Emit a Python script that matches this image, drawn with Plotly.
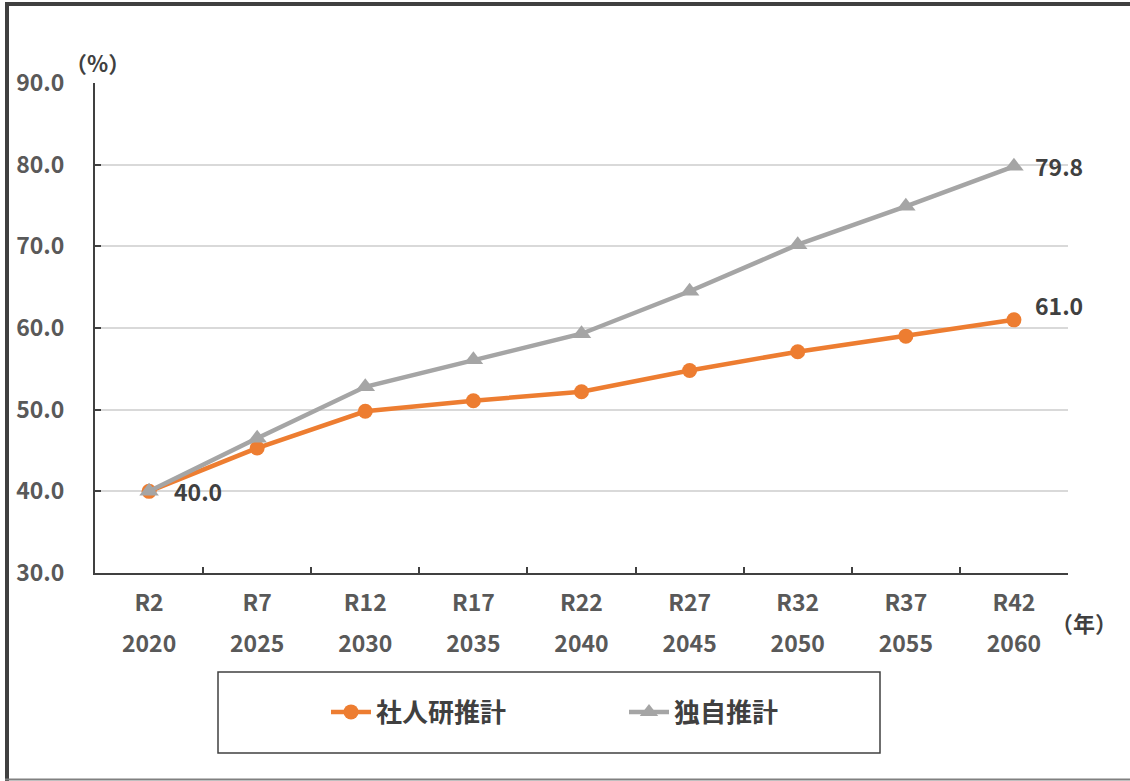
import plotly.graph_objects as go

# Projection years, Japanese era labels and the two projected series (%)
years = ["2020", "2025", "2030", "2035", "2040", "2045", "2050", "2055", "2060"]
eras = ["R2", "R7", "R12", "R17", "R22", "R27", "R32", "R37", "R42"]
ipss_values = [40.0, 45.3, 49.8, 51.1, 52.2, 54.8, 57.1, 59.0, 61.0]
own_values = [40.0, 46.5, 52.8, 56.1, 59.3, 64.5, 70.2, 74.9, 79.8]
series_names = ["社人研推計", "独自推計"]

W, H = 1130, 781
L, R, T, B = 95, 62, 83, 208
PW, PH = W - L - R, H - T - B

def px_x(x):
    return (x - L) / PW

def px_y(y):
    return (H - B - y) / PH

FONT = "Noto Sans CJK JP"
DARK = "#404040"
TICK = "#595959"
ORANGE = "#ED7D31"
GRAY = "#A5A5A5"

fig = go.Figure()
fig.add_trace(go.Scatter(
    x=years, y=ipss_values, name=series_names[0], mode="lines+markers",
    line=dict(color=ORANGE, width=4.5),
    marker=dict(symbol="circle", size=15, color=ORANGE),
))
fig.add_trace(go.Scatter(
    x=years, y=own_values, name=series_names[1], mode="lines+markers",
    line=dict(color=GRAY, width=4.5),
    marker=dict(symbol="triangle-up", size=17, color=GRAY),
))
# carrier for the era-label axis (second row of x tick labels); draws nothing
fig.add_trace(go.Scatter(
    x=list(range(len(eras))), y=ipss_values, xaxis="x2", mode="markers",
    marker=dict(opacity=0, size=1), hoverinfo="skip", showlegend=False,
))

label_font = dict(family=FONT, size=23, color=DARK, weight="bold")
# value labels: first point, and last point of each series (x given as category index)
last = len(years) - 1
labels = [
    (0, ipss_values[0], 23, 0),
    (last, ipss_values[last], 19, 15),
    (last, own_values[last], 19, 0),
]
for xi, yv, dx, dy in labels:
    fig.add_annotation(x=xi, y=yv, xref="x", yref="y", text=f"{yv:.1f}",
                       showarrow=False, xanchor="left", yanchor="middle",
                       xshift=dx, yshift=dy, font=label_font)

unit_font = dict(family=FONT, size=22, color=DARK, weight="bold")
fig.add_annotation(x=px_x(97), y=px_y(62), xref="paper", yref="paper",
                   xanchor="center", yanchor="middle",
                   text="（%）", showarrow=False, font=unit_font)
fig.add_annotation(x=px_x(1084), y=px_y(622), xref="paper", yref="paper",
                   xanchor="center", yanchor="middle",
                   text="（年）", showarrow=False, font=unit_font)

# legend frame and outer chart frame
fig.add_shape(type="rect", xref="paper", yref="paper",
              x0=px_x(218), x1=px_x(880), y0=px_y(753), y1=px_y(672),
              line=dict(color=DARK, width=1.5), layer="below")
fig.add_shape(type="line", xref="paper", yref="paper",
              x0=px_x(5), x1=px_x(1130), y0=px_y(4), y1=px_y(4),
              line=dict(color=DARK, width=4))
fig.add_shape(type="line", xref="paper", yref="paper",
              x0=px_x(7), x1=px_x(7), y0=px_y(2), y1=px_y(781),
              line=dict(color=DARK, width=4))
fig.add_shape(type="line", xref="paper", yref="paper",
              x0=px_x(5), x1=px_x(1130), y0=px_y(779.5), y1=px_y(779.5),
              line=dict(color="#808080", width=2))

tick_font = dict(family=FONT, size=23, color=TICK, weight="bold")

fig.update_layout(
    width=W, height=H,
    margin=dict(l=L, r=R, t=T, b=B, pad=0),
    paper_bgcolor="white", plot_bgcolor="white",
    showlegend=True,
    legend=dict(
        orientation="h", x=px_x(624), y=px_y(712),
        xanchor="center", yanchor="middle",
        font=dict(family=FONT, size=26, color=DARK, weight="bold"),
        bgcolor="rgba(0,0,0,0)", borderwidth=0,
        entrywidth=243, itemwidth=40,
    ),
    xaxis=dict(
        type="category", range=[-0.5, 8.5],
        tickson="boundaries", ticks="inside", ticklen=6, tickwidth=1.5,
        tickcolor=DARK, showline=True, linecolor=DARK, linewidth=2,
        showgrid=False, zeroline=False,
        tickfont=tick_font, ticklabelstandoff=49,
    ),
    xaxis2=dict(
        type="linear",
        overlaying="x", anchor="y", side="bottom",
        range=[-0.5, 8.5], tickmode="array",
        tickvals=list(range(len(eras))), ticktext=eras,
        ticks="", showline=False, showgrid=False, zeroline=False,
        showticklabels=True,
        tickfont=tick_font, ticklabelstandoff=14,
    ),
    yaxis=dict(
        range=[30, 90], dtick=10, tickformat=".1f",
        ticks="inside", ticklen=6, tickwidth=1.5, tickcolor=DARK,
        showline=True, linecolor=DARK, linewidth=2,
        gridcolor="#D9D9D9", gridwidth=1.5, zeroline=False,
        tickfont=tick_font, ticklabelstandoff=24,
    ),
)

fig.write_html("out.html")
